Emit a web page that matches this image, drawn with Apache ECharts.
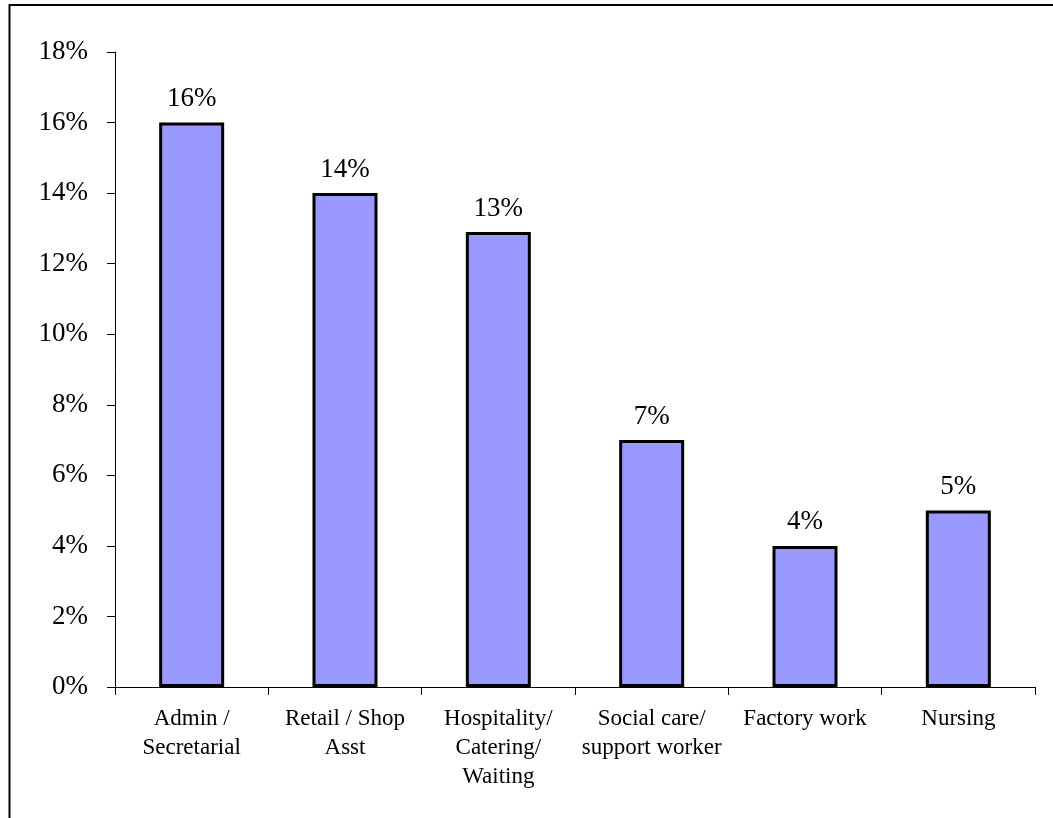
<!DOCTYPE html>
<html>
<head>
<meta charset="utf-8">
<script src="https://cdn.jsdelivr.net/npm/echarts@6/dist/echarts.min.js"></script>
<style>
html,body{margin:0;padding:0;background:#fff;}
#chart{width:1053px;height:818px;}
</style>
</head>
<body>
<div id="chart"></div>
<script>
var categories = ["Admin /\nSecretarial", "Retail / Shop\nAsst", "Hospitality/\nCatering/\nWaiting", "Social care/\nsupport worker", "Factory work", "Nursing"];
var values = [16, 14, 12.9, 7, 4, 5];
var yMin = 0, yMax = 18, yStep = 2;

var chart = echarts.init(document.getElementById('chart'), null, {renderer: 'canvas'});
var font = 'Liberation Serif, Times New Roman, serif';
chart.setOption({
  animation: false,
  backgroundColor: '#fff',
  graphic: [{
    type: 'rect',
    shape: {x: 9.5, y: 5, width: 1200, height: 1000},
    style: {fill: 'none', stroke: '#000', lineWidth: 2},
    silent: true
  }],
  grid: {left: 115, right: 18, top: 52, bottom: 131},
  xAxis: {
    type: 'category',
    data: categories,
    axisLine: {lineStyle: {color: '#000', width: 1}},
    axisTick: {show: true, length: 8, lineStyle: {color: '#000'}},
    axisLabel: {color: '#000', fontFamily: font, fontSize: 23, lineHeight: 29, margin: 17, interval: 0}
  },
  yAxis: {
    type: 'value',
    min: yMin, max: yMax, interval: yStep,
    splitLine: {show: false},
    axisLine: {show: true, lineStyle: {color: '#000', width: 1}},
    axisTick: {show: true, length: 8, lineStyle: {color: '#000'}},
    axisLabel: {color: '#000', fontFamily: font, fontSize: 27, margin: 27, formatter: '{value}%'}
  },
  series: [{
    type: 'bar',
    data: values,
    barWidth: 65,
    itemStyle: {color: '#9999FF', borderColor: '#000', borderWidth: 3},
    label: {
      show: true, position: 'top', distance: 10,
      color: '#000', fontFamily: font, fontSize: 27,
      formatter: function (p) { return Math.round(p.value) + '%'; }
    }
  }]
});
</script>
</body>
</html>
